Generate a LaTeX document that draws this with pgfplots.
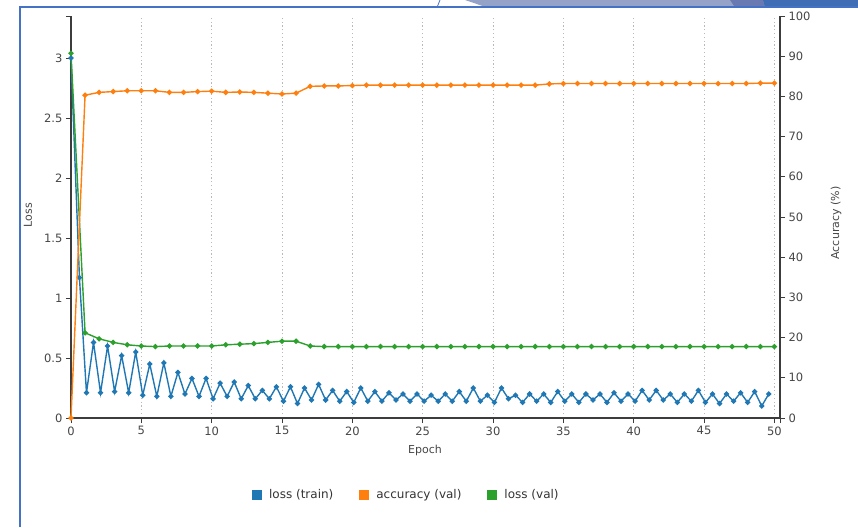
\documentclass[border=0pt]{standalone}
\usepackage{pgfplots}
\pgfplotsset{compat=1.18}
\usepackage{pgfplotstable}
\usepackage{fontspec}
\setmainfont{DejaVu Sans}
\definecolor{cblue}{RGB}{31,119,180}
\definecolor{corange}{RGB}{255,127,14}
\definecolor{cgreen}{RGB}{44,160,44}
\definecolor{axgray}{RGB}{60,60,60}
\definecolor{txgray}{RGB}{70,70,70}
\definecolor{frameblue}{RGB}{68,114,196}
\definecolor{band1}{RGB}{150,163,200}
\definecolor{band2}{RGB}{105,122,178}
\definecolor{band3}{RGB}{63,110,181}

\pgfplotstableread{
x y
0 3.00
0.6 1.17
1.1 0.21
1.6 0.63
2.1 0.21
2.6 0.60
3.1 0.22
3.6 0.52
4.1 0.21
4.6 0.55
5.1 0.19
5.6 0.45
6.1 0.18
6.6 0.46
7.1 0.18
7.6 0.38
8.1 0.20
8.6 0.33
9.1 0.18
9.6 0.33
10.1 0.16
10.6 0.29
11.1 0.18
11.6 0.30
12.1 0.16
12.6 0.27
13.1 0.16
13.6 0.23
14.1 0.16
14.6 0.26
15.1 0.14
15.6 0.26
16.1 0.12
16.6 0.25
17.1 0.15
17.6 0.28
18.1 0.15
18.6 0.23
19.1 0.14
19.6 0.22
20.1 0.13
20.6 0.25
21.1 0.14
21.6 0.22
22.1 0.14
22.6 0.21
23.1 0.15
23.6 0.20
24.1 0.14
24.6 0.20
25.1 0.14
25.6 0.19
26.1 0.14
26.6 0.20
27.1 0.14
27.6 0.22
28.1 0.14
28.6 0.25
29.1 0.14
29.6 0.19
30.1 0.13
30.6 0.25
31.1 0.16
31.6 0.19
32.1 0.13
32.6 0.20
33.1 0.14
33.6 0.20
34.1 0.13
34.6 0.22
35.1 0.14
35.6 0.20
36.1 0.13
36.6 0.20
37.1 0.15
37.6 0.20
38.1 0.13
38.6 0.21
39.1 0.14
39.6 0.20
40.1 0.14
40.6 0.23
41.1 0.15
41.6 0.23
42.1 0.15
42.6 0.20
43.1 0.13
43.6 0.20
44.1 0.14
44.6 0.23
45.1 0.13
45.6 0.20
46.1 0.12
46.6 0.20
47.1 0.14
47.6 0.21
48.1 0.13
48.6 0.22
49.1 0.10
49.6 0.20
}\losstrain

\pgfplotstableread{
x y
0 3.04
1 0.71
2 0.66
3 0.63
4 0.61
5 0.60
6 0.595
7 0.60
8 0.60
9 0.60
10 0.60
11 0.61
12 0.615
13 0.62
14 0.63
15 0.64
16 0.64
17 0.60
18 0.595
19 0.595
20 0.595
21 0.595
22 0.595
23 0.595
24 0.595
25 0.595
26 0.595
27 0.595
28 0.595
29 0.595
30 0.595
31 0.595
32 0.595
33 0.595
34 0.595
35 0.595
36 0.595
37 0.595
38 0.595
39 0.595
40 0.595
41 0.595
42 0.595
43 0.595
44 0.595
45 0.595
46 0.595
47 0.595
48 0.595
49 0.595
50 0.595
}\lossval

\pgfplotstableread{
x y
0 0
1 80.3
2 81.0
3 81.2
4 81.4
5 81.4
6 81.4
7 81.0
8 81.0
9 81.2
10 81.3
11 81.0
12 81.1
13 81.0
14 80.8
15 80.6
16 80.8
17 82.5
18 82.6
19 82.6
20 82.7
21 82.8
22 82.8
23 82.8
24 82.8
25 82.8
26 82.8
27 82.8
28 82.8
29 82.8
30 82.8
31 82.8
32 82.8
33 82.8
34 83.1
35 83.2
36 83.2
37 83.2
38 83.2
39 83.2
40 83.2
41 83.2
42 83.2
43 83.2
44 83.2
45 83.2
46 83.2
47 83.2
48 83.2
49 83.3
50 83.3
}\accval

\pgfplotsset{
  common/.style={
    at={(71pt,109pt)}, anchor=origin,
    scale only axis, width=709pt, height=402pt,
    xmin=0, xmax=50.4,
    tick align=outside, major tick length=5pt,
    tick style={color=axgray, line width=0.9pt},
    axis line style={color=axgray, line width=1.1pt},
    ticklabel style={font=\fontsize{11.5}{13}\selectfont, color=txgray},
    label style={font=\fontsize{11}{13}\selectfont, color=txgray},
    /pgf/number format/assume math mode=true,
    clip=false,
  },
  dataline/.style={line width=1.4pt, mark=*, mark size=1.9pt},
}

\begin{document}
\begin{tikzpicture}
\useasboundingbox (0pt,0pt) rectangle (858pt,527pt);
% slide frame
\fill[band1] (465pt,527pt) -- (487pt,519.5pt) -- (858pt,519.5pt) -- (858pt,527pt) -- cycle;
\fill[band2] (730pt,527pt) -- (735pt,519.5pt) -- (765pt,519.5pt) -- (763pt,527pt) -- cycle;
\fill[band3] (763pt,527pt) -- (765pt,519.5pt) -- (858pt,519.5pt) -- (858pt,527pt) -- cycle;
\draw[frameblue, line width=0.8pt] (437pt,519.5pt) -- (440pt,527pt);
\draw[frameblue, line width=2pt] (20pt,0pt) -- (20pt,519.5pt) -- (858pt,519.5pt);

\begin{axis}[common,
  ymin=0, ymax=3.35,
  axis x line*=bottom, axis y line*=left,
  xtick={0,5,...,50}, ytick={0,0.5,...,3},
  extra y ticks={3.35}, extra y tick labels={},
  extra x ticks={50.4}, extra x tick labels={},
  extra x tick style={grid=none},
  xmajorgrids,
  grid style={color=gray!55, line width=0.9pt, dash pattern=on 1.2pt off 2.6pt},
  xlabel={Epoch}, ylabel={Loss},
  xlabel style={at={(axis description cs:0.4993,-0.0796)}, anchor=center},
  ylabel style={at={(axis description cs:-0.0606,0.505)}, anchor=center},
]
\addplot[dataline, color=cblue] table[x=x,y=y] {\losstrain};
\addplot[dataline, color=cgreen] table[x=x,y=y] {\lossval};
\end{axis}

\begin{axis}[common,
  ymin=0, ymax=100,
  axis x line=none, axis y line*=right,
  ytick={0,10,...,100},
  ylabel={Accuracy (\%)},
  ylabel style={at={(axis description cs:1.079,0.485)}, anchor=center, rotate=0},
  legend columns=3,
  legend style={at={(axis description cs:0.473,-0.1915)}, anchor=center, draw=none, fill=none,
    font=\fontsize{12}{14}\selectfont, text=black!80,
    /tikz/every even column/.append style={column sep=24pt}},
]
\addlegendimage{legend image code/.code={\fill[cblue, draw=none] (0pt,-5pt) rectangle (10pt,5pt); \path[draw=none, fill=none] (0pt,0pt) -- (15pt,0pt);}}
\addlegendentry{loss (train)}
\addlegendimage{legend image code/.code={\fill[corange, draw=none] (0pt,-5pt) rectangle (10pt,5pt); \path[draw=none, fill=none] (0pt,0pt) -- (15pt,0pt);}}
\addlegendentry{accuracy (val)}
\addlegendimage{legend image code/.code={\fill[cgreen, draw=none] (0pt,-5pt) rectangle (10pt,5pt); \path[draw=none, fill=none] (0pt,0pt) -- (15pt,0pt);}}
\addlegendentry{loss (val)}
\addplot[dataline, color=corange, forget plot] table[x=x,y=y] {\accval};
\end{axis}
\end{tikzpicture}
\end{document}
